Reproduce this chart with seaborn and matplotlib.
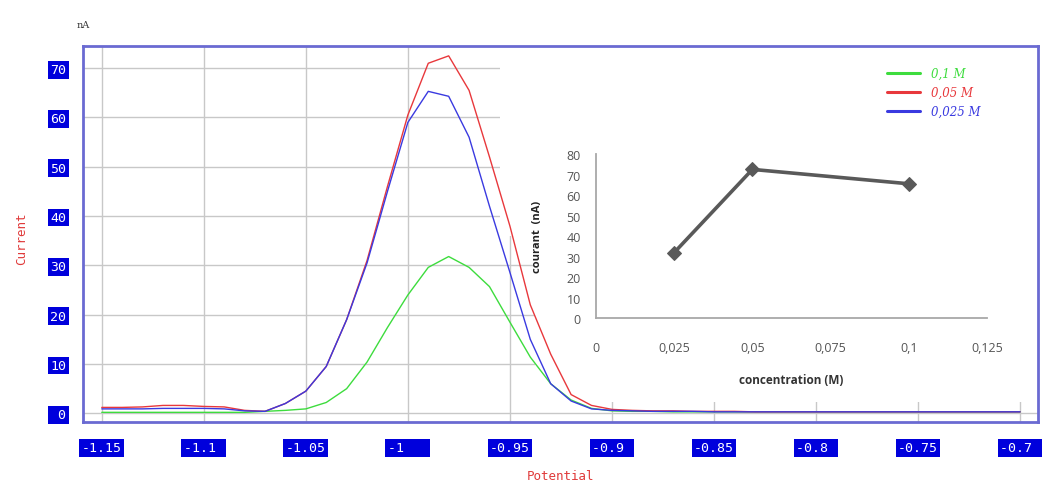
import matplotlib
matplotlib.use("Agg")
import matplotlib.pyplot as plt
import pandas as pd
import seaborn as sns
from matplotlib.patches import Rectangle
from matplotlib.lines import Line2D

# ---------------- data ----------------
potential = [-1.15, -1.14, -1.13, -1.12, -1.11, -1.10, -1.09, -1.08, -1.07, -1.06,
             -1.05, -1.04, -1.03, -1.02, -1.01, -1.00, -0.99, -0.98, -0.97, -0.96,
             -0.95, -0.94, -0.93, -0.92, -0.91, -0.90, -0.89, -0.88, -0.87, -0.86,
             -0.85, -0.84, -0.83, -0.82, -0.81, -0.80, -0.79, -0.78, -0.77, -0.76,
             -0.75, -0.74, -0.73, -0.72, -0.71, -0.70]

current_01M = [0.2, 0.2, 0.2, 0.2, 0.2, 0.2, 0.2, 0.2, 0.4, 0.6,
               0.9, 2.2, 5.0, 10.4, 17.4, 24.0, 29.6, 31.8, 29.6, 25.7,
               18.5, 11.4, 6.0, 2.7, 1.0, 0.5, 0.4, 0.4, 0.3, 0.3,
               0.3, 0.3, 0.3, 0.3, 0.3, 0.3, 0.3, 0.3, 0.3, 0.3,
               0.3, 0.3, 0.3, 0.3, 0.3, 0.3]

current_005M = [1.2, 1.2, 1.3, 1.6, 1.6, 1.4, 1.3, 0.6, 0.4, 2.0,
                4.5, 9.5, 19.0, 31.0, 46.0, 60.5, 71.0, 72.5, 65.5, 52.0,
                38.0, 22.0, 12.0, 3.8, 1.6, 0.8, 0.6, 0.5, 0.5, 0.4,
                0.4, 0.4, 0.3, 0.3, 0.3, 0.3, 0.3, 0.3, 0.3, 0.3,
                0.3, 0.3, 0.3, 0.3, 0.3, 0.3]

current_0025M = [0.9, 0.9, 0.9, 1.0, 1.0, 1.0, 0.9, 0.5, 0.4, 2.0,
                 4.5, 9.5, 19.0, 30.5, 45.0, 59.0, 65.3, 64.3, 56.0, 42.0,
                 28.6, 15.0, 6.0, 2.5, 0.9, 0.6, 0.5, 0.4, 0.4, 0.4,
                 0.3, 0.3, 0.3, 0.3, 0.3, 0.3, 0.3, 0.3, 0.3, 0.3,
                 0.3, 0.3, 0.3, 0.3, 0.3, 0.3]

series_names = ["0,1 M", "0,05 M", "0,025 M"]
series_colors = ["#3ddc3d", "#e8383c", "#3a3ae0"]

x_ticks = [-1.15, -1.1, -1.05, -1.0, -0.95, -0.9, -0.85, -0.8, -0.75, -0.7]
x_tick_labels = ["-1.15", "-1.1", "-1.05", "-1", "-0.95", "-0.9", "-0.85", "-0.8", "-0.75", "-0.7"]
y_ticks = [0, 10, 20, 30, 40, 50, 60, 70]
y_tick_labels = ["0", "10", "20", "30", "40", "50", "60", "70"]

# inset data
concentration = [0.025, 0.05, 0.1]
peak_current = [32.0, 72.5, 65.5]
inset_x_ticks = [0, 0.025, 0.05, 0.075, 0.1, 0.125]
inset_x_labels = ["0", "0,025", "0,05", "0,075", "0,1", "0,125"]
inset_y_ticks = [0, 10, 20, 30, 40, 50, 60, 70, 80]

# ---------------- figure ----------------
sns.set_style("white")
W, H = 1051, 481
fig = plt.figure(figsize=(W / 100, H / 100), dpi=100)
fig.patch.set_facecolor("white")

def fx(px):
    return px / W

def fy(py):
    return 1 - py / H

ax_l, ax_r, ax_t, ax_b = 83, 1038, 47, 423
ax = fig.add_axes([fx(ax_l), fy(ax_b), (ax_r - ax_l) / W, (ax_b - ax_t) / H])
ax.set_facecolor("white")

df = pd.DataFrame({
    "potential": potential * 3,
    "current": current_01M + current_005M + current_0025M,
    "series": [series_names[0]] * len(potential) + [series_names[1]] * len(potential)
              + [series_names[2]] * len(potential),
})
sns.lineplot(data=df, x="potential", y="current", hue="series",
             hue_order=series_names, palette=series_colors, linewidth=1.0,
             legend=False, ax=ax, zorder=3)

ax.set_xlim(-1.1592, -0.6912)
ax.set_ylim(-1.76, 74.5)

# grid
ax.set_axisbelow(True)
ax.grid(True, color="#c8c8c8", linewidth=1.0)

# white pasted-image area hiding the grid (upper right)
for (x0, y0) in [(0.437, 36), (0.4733, 2.3)]:
    ax.add_patch(Rectangle((x0, y0), 1 - x0, 74.5 - y0,
                           transform=ax.get_yaxis_transform(),
                           facecolor="white", edgecolor="none", zorder=1))

# spines
for s in ax.spines.values():
    s.set_color("#6a6ad2")
    s.set_linewidth(2.0)

# ticks
ax.set_xticks(x_ticks)
ax.set_xticklabels([t.ljust(5) for t in x_tick_labels])
ax.set_yticks(y_ticks)
ax.set_yticklabels([t.rjust(2) for t in y_tick_labels])
ax.tick_params(axis="both", which="both", direction="out", length=4, width=1,
               color="#444444", labelcolor="white", labelsize=9.5)
ax.tick_params(axis="x", pad=10)
ax.tick_params(axis="y", pad=8)
for lab in ax.get_xticklabels() + ax.get_yticklabels():
    lab.set_fontfamily("DejaVu Sans Mono")
    lab.set_bbox(dict(boxstyle="square,pad=0.18", facecolor="#0000dc", edgecolor="none"))

ax.set_xlabel("Potential", color="#e03a3a", fontsize=9, family="DejaVu Sans Mono")
ax.set_ylabel("Current", color="#e03a3a", fontsize=9, family="DejaVu Sans Mono")
ax.xaxis.set_label_coords(0.5, -0.124)
ax.yaxis.set_label_coords(-0.057, 0.49)

fig.text(fx(83), fy(25), "nA", ha="center", va="center", fontsize=7,
         family="DejaVu Serif", color="#333333")

# legend
handles = [Line2D([0], [0], color=c, linewidth=2.2) for c in series_colors]
leg = ax.legend(handles, series_names, loc="upper left",
                bbox_to_anchor=(fx(887), fy(68)), bbox_transform=fig.transFigure,
                frameon=False, borderpad=0, borderaxespad=0, handlelength=2.8,
                handletextpad=0.9, labelspacing=0.5,
                prop={"family": "DejaVu Serif", "style": "italic", "size": 8.5})
for txt, c in zip(leg.get_texts(), series_colors):
    txt.set_color(c)
leg.set_zorder(5)

# ---------------- inset ----------------
in_l, in_r, in_t, in_b = 596, 987, 155, 319.3
ax_in = fig.add_axes([fx(in_l), fy(in_b), (in_r - in_l) / W, (in_b - in_t) / H])
ax_in.patch.set_alpha(0)
sns.lineplot(x=concentration, y=peak_current, ax=ax_in, color="#595959",
             linewidth=2.6, marker="D", markersize=7, markeredgecolor="#595959")
ax_in.set_xlim(0, 0.125)
ax_in.set_ylim(0, 80)
ax_in.set_xticks(inset_x_ticks)
ax_in.set_xticklabels(inset_x_labels)
ax_in.set_yticks(inset_y_ticks)
ax_in.tick_params(axis="both", length=0, labelsize=9, labelcolor="#555555")
ax_in.tick_params(axis="x", pad=16)
ax_in.tick_params(axis="y", pad=11)
for lab in ax_in.get_xticklabels() + ax_in.get_yticklabels():
    lab.set_fontfamily("Open Sans")
for side in ["top", "right"]:
    ax_in.spines[side].set_visible(False)
for side in ["left", "bottom"]:
    ax_in.spines[side].set_color("#a8a8a8")
    ax_in.spines[side].set_linewidth(1.3)
ax_in.grid(False)
ax_in.set_xlabel("concentration (M)", fontsize=8.5, fontweight="bold",
                 family="Open Sans", color="#333333")
ax_in.set_ylabel("courant  (nA)", fontsize=8, fontweight="bold",
                 family="Open Sans", color="#222222")
ax_in.xaxis.set_label_coords(0.5, -0.33)
ax_in.yaxis.set_label_coords(-0.1355, 0.5)

fig.savefig("out.png", dpi=100, facecolor="white")
